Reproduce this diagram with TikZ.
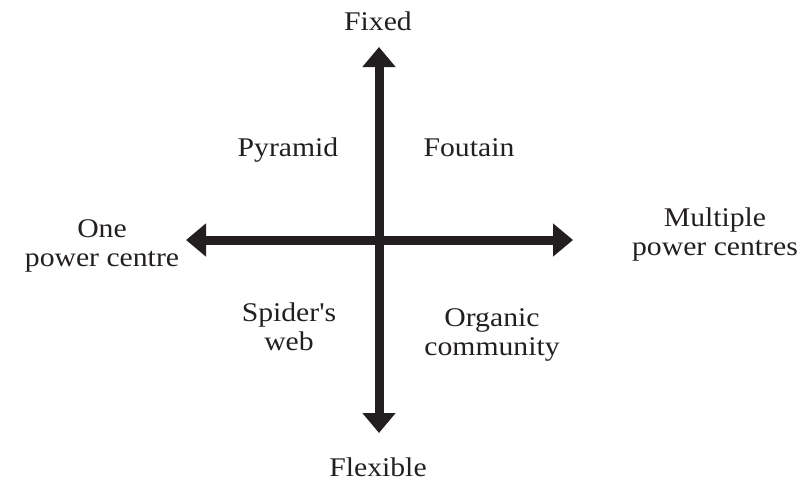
\documentclass[tikz,border=0pt]{standalone}
\usepackage{fontspec}
% plain family without TeX ligature mapping keeps the straight apostrophe
\newfontfamily\labelfont{Liberation Serif}[FakeStretch=1.1]
\usetikzlibrary{arrows.meta}
\definecolor{ink}{RGB}{35,31,32}
\tikzset{
  axis/.style={line width=9pt, draw=ink,
    -{Triangle[length=20pt,width=32pt]}},
  lbl/.style={font=\labelfont\fontsize{27}{28.5}\selectfont, align=center,
    anchor=base, inner sep=0pt, text=ink}
}
\begin{document}
\begin{tikzpicture}[x=1pt,y=-1pt]
  \useasboundingbox (0,0) rectangle (801,482);
  % axis end points
  \coordinate (c) at (379,240);
  \coordinate (top) at (379,47);
  \coordinate (bot) at (379,433);
  \coordinate (lft) at (186,240);
  \coordinate (rgt) at (573,240);
  \draw[axis] (c) -- (top);
  \draw[axis] (c) -- (bot);
  \draw[axis] (c) -- (lft);
  \draw[axis] (c) -- (rgt);
  % axis labels (multi-line nodes sit on their last baseline)
  \node[lbl] (fixed) at (378,30) {Fixed};
  \node[lbl] (flex) at (378,476) {Flexible};
  \node[lbl] (one) at (102,266) {One\\power centre};
  \node[lbl] (multi) at (715,255) {Multiple\\power centres};
  % quadrant labels
  \node[lbl] (pyr) at (288,156) {Pyramid};
  \node[lbl] (fou) at (469,156) {Foutain};
  \node[lbl] (spi) at (289,350) {Spider's\\web};
  \node[lbl] (org) at (492,355) {Organic\\community};
\end{tikzpicture}
\end{document}
